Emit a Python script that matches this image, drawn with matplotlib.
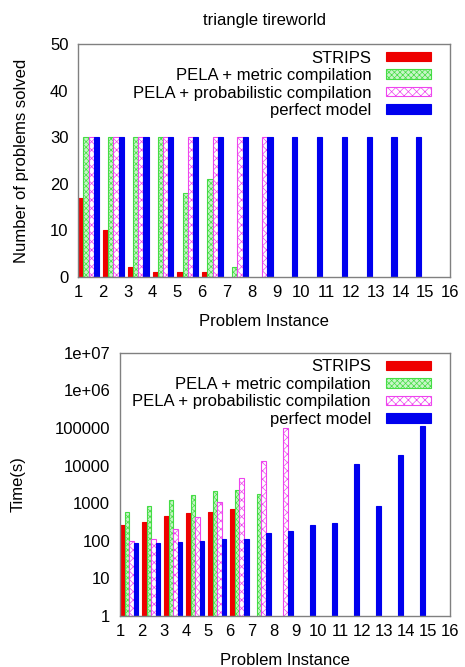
import numpy as np
import matplotlib
matplotlib.use('Agg')
import matplotlib.pyplot as plt
from matplotlib.ticker import FixedLocator, FixedFormatter

plt.rcParams['font.family'] = ['Liberation Sans', 'DejaVu Sans']
plt.rcParams['font.size'] = 12
plt.rcParams['hatch.linewidth'] = 0.5

nan = np.nan
instances = list(range(1, 17))
series = ['STRIPS', 'PELA + metric compilation',
          'PELA + probabilistic compilation', 'perfect model']

# number of problems solved, per problem instance 1..15
solved_strips = [17, 10, 2, 1, 1, 1, nan, nan, nan, nan, nan, nan, nan, nan, nan]
solved_metric = [30, 30, 30, 30, 18, 21, 2, nan, nan, nan, nan, nan, nan, nan, nan]
solved_prob = [30, 30, 30, 30, 30, 30, 30, 30, nan, nan, nan, nan, nan, nan, nan]
solved_perfect = [30, 30, 30, 30, 30, 30, 30, 30, 30, 30, 30, 30, 30, 30, nan]

# time (s), per problem instance 1..15
time_strips = [265, 314, 470, 545, 600, 710, nan, nan, nan, nan, nan, nan, nan, nan, nan]
time_metric = [600, 850, 1230, 1630, 2050, 2180, 1780, nan, nan, nan, nan, nan, nan, nan, nan]
time_prob = [100, 115, 204, 435, 1070, 4670, 13500, 98000, nan, nan, nan, nan, nan, nan, nan]
time_perfect = [85, 90, 94, 100, 110, 110, 160, 177, 265, 290, 11000, 850, 19000, 115000, nan]

log_ticks = [1, 10, 100, 1000, 10000, 100000, 1e6, 1e7]
log_labels = ['1', '10', '100', '1000', '10000', '100000', '1e+06', '1e+07']

styles = [
    dict(facecolor='#ee0000', edgecolor='#ee0000', hatch=None),
    dict(facecolor='#c8f5c8', edgecolor='#44dd44', hatch='xxxxxx'),
    dict(facecolor='white', edgecolor='#ee44ee', hatch='xxxx'),
    dict(facecolor='#0000ee', edgecolor='#0000ee', hatch=None),
]
width = 0.21


def draw(ax, data, anchor):
    x = np.arange(1, 16)
    for i, (vals, name, st) in enumerate(zip(data, series, styles)):
        ax.bar(x + i * width, vals, width, align='edge', label=name,
               linewidth=0.8, **st)
    ax.set_xlim(1, 16)
    ax.set_xticks(instances)
    ax.tick_params(length=0, labelsize=12)
    ax.tick_params(axis='x', pad=6)
    ax.tick_params(axis='y', pad=7)
    for sp in ax.spines.values():
        sp.set_color('#808080')
        sp.set_linewidth(1)
    ax.set_xlabel('Problem Instance', labelpad=10)
    ax.legend(loc='upper right', bbox_to_anchor=anchor, frameon=False,
              markerfirst=False, handlelength=2.7, handleheight=0.5,
              labelspacing=0.15, handletextpad=0.9, borderaxespad=0,
              borderpad=0, fontsize=12)


fig = plt.figure(figsize=(4.65, 6.67), dpi=100)

ax1 = fig.add_axes([0.168, 0.585, 0.800, 0.349])
draw(ax1, [solved_strips, solved_metric, solved_prob, solved_perfect],
     (0.949, 0.972))
ax1.set_ylim(0, 50)
ax1.set_yticks([0, 10, 20, 30, 40, 50])
ax1.set_ylabel('Number of problems solved')
ax1.yaxis.set_label_coords(-0.132, 0.5)
ax1.set_title('triangle tireworld', fontsize=12, pad=13.5)

ax2 = fig.add_axes([0.258, 0.0765, 0.710, 0.3945])
ax2.set_yscale('log')
draw(ax2, [time_strips, time_metric, time_prob, time_perfect],
     (0.942, 0.975))
ax2.set_ylim(1, 1e7)
ax2.yaxis.set_major_locator(FixedLocator(log_ticks))
ax2.yaxis.set_major_formatter(FixedFormatter(log_labels))
ax2.yaxis.set_minor_locator(FixedLocator([]))
ax2.set_ylabel('Time(s)')
ax2.yaxis.set_label_coords(-0.285, 0.5)

fig.savefig('out.png', dpi=100)
